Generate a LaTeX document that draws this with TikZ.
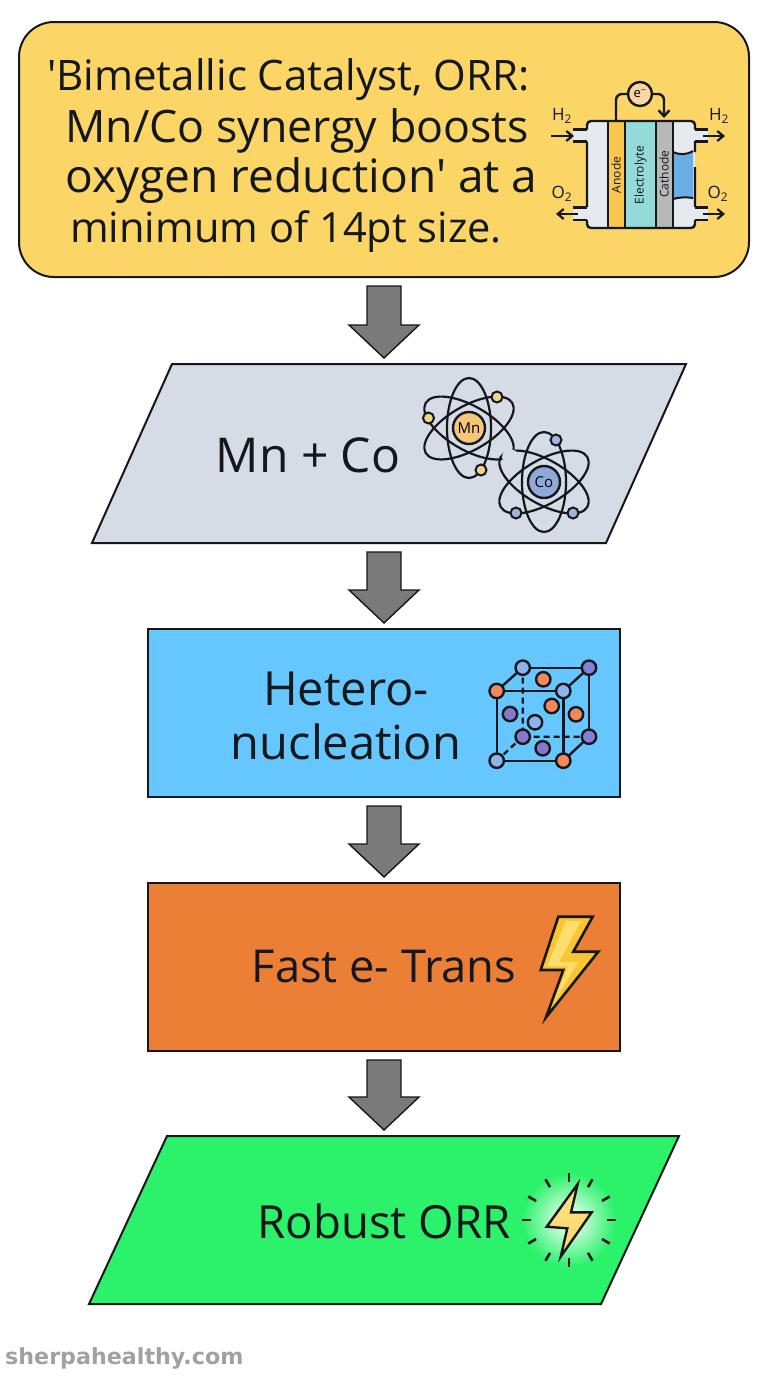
\documentclass[tikz,border=0pt]{standalone}
\usepackage{fontspec}
\setmainfont{Open Sans}
\newfontfamily\headfont{Open Sans}
\newfontfamily\markfont{DejaVu Sans}
\usetikzlibrary{arrows.meta,calc}
\definecolor{headfill}{HTML}{FBD566}
\definecolor{metalfill}{HTML}{D6DCE5}
\definecolor{nuclfill}{HTML}{66C7FF}
\definecolor{transfill}{HTML}{EC7F36}
\definecolor{robustfill}{HTML}{2CF16A}
\definecolor{flowgrey}{HTML}{7A7A7A}
\definecolor{inkline}{HTML}{14171C}
\definecolor{mnfill}{HTML}{F6C67A}
\definecolor{mndot}{HTML}{F2D58C}
\definecolor{cofill}{HTML}{8FA9D8}
\definecolor{codot}{HTML}{9FB4E0}
\definecolor{orangedot}{HTML}{F0885A}
\definecolor{bluedot}{HTML}{8DB4EA}
\definecolor{purpledot}{HTML}{8878CC}
\definecolor{violetdot}{HTML}{7F83D6}
\definecolor{boltfill}{HTML}{FBC531}
\definecolor{boltlight}{HTML}{FFDD6E}
\definecolor{cellwall}{HTML}{E6E9EE}
\definecolor{anodefill}{HTML}{F9C74F}
\definecolor{lytefill}{HTML}{93DAD8}
\definecolor{cathfill}{HTML}{B8B8B8}
\definecolor{waterfill}{HTML}{6AAEE8}
\tikzset{
  stage/.style={draw=inkline, line width=2pt, inner sep=0pt},
  rectstage/.style={stage, minimum width=472pt, minimum height=168pt},
  slantstage/.style={stage, transform shape, xslant=#1},
  stagetext/.style={inner sep=0pt, text=inkline},
  flowarrow/.style={draw=inkline, fill=flowgrey, line width=1.4pt, line join=miter,
    to path={let \p1=(\tikztostart), \p2=(\tikztotarget) in
      (\x1-17pt,\y1-8pt) -- (\x1+17pt,\y1-8pt) -- (\x1+17pt,\y2+38pt) -- (\x1+35pt,\y2+38pt)
      -- (\x1,\y2+5pt) -- (\x1-35pt,\y2+38pt) -- (\x1-17pt,\y2+38pt) -- cycle}},
  icon/.style={draw=inkline, line width=2.4pt},
  thinicon/.style={draw=inkline, line width=2pt},
  celltext/.style={inner sep=0pt, rotate=90, font=\fontsize{12}{13}\selectfont, text=inkline},
  gastext/.style={inner sep=0pt, font=\fontsize{17}{18}\selectfont, text=inkline},
  gasarrow/.style={draw=inkline, line width=2.2pt, -{Straight Barb[length=6pt,width=10pt]}},
  orbit/.style={draw=inkline, line width=2.2pt},
  cubedot/.style={draw=inkline, line width=2.4pt},
}
\begin{document}
\begin{tikzpicture}[x=1pt, y=-1pt]
  \useasboundingbox (0,0) rectangle (768,1376);

  \node[stage, fill=headfill, rounded corners=35pt, minimum width=730pt, minimum height=255pt] (head) at (384,149.5) {};
  \node[slantstage=0.447, fill=metalfill, minimum width=514pt, minimum height=179pt] (mnco) at (389,453.5) {};
  \node[rectstage, fill=nuclfill] (nucl) at (384,713) {};
  \node[rectstage, fill=transfill] (trans) at (384,967) {};
  \node[slantstage=0.464, fill=robustfill, minimum width=512pt, minimum height=168pt] (robust) at (384,1220) {};

  \node[stagetext, anchor=north west, align=left, font=\headfont] (headtext) at (47,58)
    {\fontsize{42}{50}\selectfont 'Bimetallic Catalyst, ORR:\\[7pt]
     \fontsize{44.7}{50}\selectfont\hspace*{18pt}Mn/Co synergy boosts\\[4pt]
     \fontsize{46}{50}\selectfont\hspace*{18pt}oxygen reduction' at a\\[6pt]
     \fontsize{41.6}{50}\selectfont\hspace*{23pt}minimum of 14pt size.};
  \node[stagetext, font=\fontsize{48}{54}\selectfont] (mncotext) at (308,455) {Mn + Co};
  \node[stagetext, align=center, font=\fontsize{47}{54}\selectfont] (nucltext) at (346,716) {Hetero-\\nucleation};
  \node[stagetext, font=\fontsize{45.3}{54}\selectfont] (transtext) at (384,967) {Fast e- Trans};
  \node[stagetext, font=\fontsize{45.6}{54}\selectfont] (robusttext) at (384,1221) {Robust ORR};

  \draw[flowarrow] (head.south) to (mnco.north);
  \draw[flowarrow] (head.south |- mnco.south) to (nucl.north);
  \draw[flowarrow] (nucl.south) to (trans.north);
  \draw[flowarrow] (trans.south) to (robust.north);

  % fuel cell
  \fill[cellwall] (587,121) rectangle (695,228);
  \fill[anodefill] (608,121) rectangle (625,228);
  \fill[lytefill] (625,121) rectangle (656,228);
  \fill[cathfill] (656,121) rectangle (673,228);
  \fill[waterfill] (673,152) .. controls (680,155) and (686,155) .. (693,151) -- (693,198) .. controls (686,197) and (680,197) .. (673,199) -- cycle;
  \fill[cellwall] (573,130) rectangle (587,141) (695,130) rectangle (708,141) (573,208) rectangle (587,220) (695,208) rectangle (708,220);
  \draw[icon, rounded corners=4pt] (587,129.5) -- (587,121) -- (695,121) -- (695,129.5) (695,141) -- (695,152) (695,167) -- (695,207) (695,220) -- (695,228) -- (587,228) -- (587,220) (587,207) -- (587,141.5);
  \draw[icon] (573,129.5) -- (587,129.5) (573,141.5) -- (587,141.5) (695,129.5) -- (708,129.5) (695,141.5) -- (708,141.5)
    (573,207.5) -- (587,207.5) (573,220) -- (587,220) (695,207.5) -- (708,207.5) (695,220) -- (708,220);
  \draw[icon] (608,121) -- (608,228) (625,121) -- (625,228) (656,121) -- (656,228) (673,121) -- (673,228);
  \draw[thinicon] (673,152) .. controls (680,155) and (686,155) .. (693,151) (673,199) .. controls (680,197) and (686,197) .. (693,198);
  \node[celltext] (anode) at (616,175) {Anode};
  \node[celltext] (electrolyte) at (640.5,175) {Electrolyte};
  \node[celltext] (cathode) at (664,174) {Cathode};
  \node[icon, circle, fill=mnfill!70!white, minimum size=24pt, inner sep=0pt, font=\fontsize{13}{13}\selectfont] (eminus) at (640,94) {e\textsuperscript{−}};
  \draw[icon, rounded corners=6pt] (616,121) -- (616,94) -- (eminus.west);
  \draw[icon, rounded corners=6pt, -{Straight Barb[length=6pt,width=11pt]}] (eminus.east) -- (664,94) -- (664,118);
  \node[gastext] (hleft) at (562,116) {H\textsubscript{2}};
  \node[gastext] (hright) at (719,116) {H\textsubscript{2}};
  \node[gastext] (oleft) at (562,194) {O\textsubscript{2}};
  \node[gastext] (oright) at (718,194) {O\textsubscript{2}};
  \coordinate (hin) at (551,136);
  \coordinate (hport) at (574,136);
  \coordinate (hout) at (703,136);
  \coordinate (hend) at (725,136);
  \coordinate (oport) at (578,214);
  \coordinate (oin) at (556,214);
  \coordinate (oout) at (703,214);
  \coordinate (oend) at (725,214);
  \draw[gasarrow] (hin) -- (hport);
  \draw[gasarrow] (hout) -- (hend);
  \draw[gasarrow] (oport) -- (oin);
  \draw[gasarrow] (oout) -- (oend);

  % atoms
  \foreach \ang in {0,60,120} {
    \draw[orbit, rotate around={\ang:(469,428)}] (469,428) ellipse (22pt and 50pt);
    \draw[orbit, rotate around={\ang:(544,482)}] (544,482) ellipse (22pt and 50pt);
  }
  \fill[metalfill] (510,457) circle (8pt);
  \node[icon, circle, fill=mnfill, minimum size=32pt, inner sep=0pt, font=\fontsize{15}{15}\selectfont] (mn) at (469,428) {Mn};
  \node[icon, circle, fill=cofill, minimum size=32pt, inner sep=0pt, font=\fontsize{15}{15}\selectfont] (co) at (544,482) {Co};
  \foreach \px/\py in {497/397,428.5/418,481/470}
    \draw[thinicon, fill=mndot] (\px,\py) circle (5.5pt);
  \foreach \px/\py in {556/440,516/513,573/513}
    \draw[thinicon, fill=codot] (\px,\py) circle (5.5pt);

  % cube
  \draw[icon] (496.7,691) rectangle (563.3,760.7);
  \draw[icon] (522.7,667.7) -- (589,667.7) -- (589,736.7);
  \draw[icon] (496.7,691) -- (522.7,667.7) (563.3,691) -- (589,667.7) (563.3,760.7) -- (589,736.7);
  \draw[icon, dash pattern=on 6pt off 4pt] (522.7,667.7) -- (522.7,736.7) -- (589,736.7) (522.7,736.7) -- (496.7,760.7);
  \foreach \px/\py/\dotcol in {522.7/667.7/bluedot,589/667.7/violetdot,496.7/691/orangedot,563.3/691/bluedot,
      522.7/736.7/purpledot,589/736.7/violetdot,496.7/760.7/bluedot,563.3/760.7/orangedot,
      543.3/679.3/orangedot,510/714/purpledot,551.7/706/orangedot,576/714.3/orangedot,535/722.3/bluedot,542.7/748.3/purpledot}
    \draw[cubedot, fill=\dotcol] (\px,\py) circle (7.2pt);

  % bolts
  \fill[boltfill] (558.3,916.7) -- (592.7,916.7) -- (573.3,951.7) -- (598.3,951.7) -- (546,1017.3) -- (563.3,970) -- (540.7,970) -- cycle;
  \fill[boltlight] (566,921) -- (581,921) -- (559,962) -- (578,962) -- (553,1004) -- (568,966) -- (547,966) -- cycle;
  \draw[icon, line width=2.6pt, line join=miter] (558.3,916.7) -- (592.7,916.7) -- (573.3,951.7) -- (598.3,951.7) -- (546,1017.3) -- (563.3,970) -- (540.7,970) -- cycle;
  \shade[inner color=white, outer color=robustfill] (569,1220) circle (47pt);
  \foreach \ang in {0,30,...,330}
    \draw[icon, line width=2.6pt] ($(569,1220)+(\ang:38pt)$) -- ($(569,1220)+(\ang:47pt)$);
  \draw[icon, top color=boltlight!90!white, bottom color=boltfill!70!white, line join=miter] (577.7,1184) -- (571,1212.3) -- (591.7,1212.3) -- (560.7,1256.7) -- (567.3,1228.3) -- (546.7,1226.7) -- cycle;

  \node[inner sep=0pt, anchor=west, text=black!37, font=\markfont\bfseries\fontsize{22.2}{24}\selectfont] (site) at (5,1358) {sherpahealthy.com};
\end{tikzpicture}
\end{document}
